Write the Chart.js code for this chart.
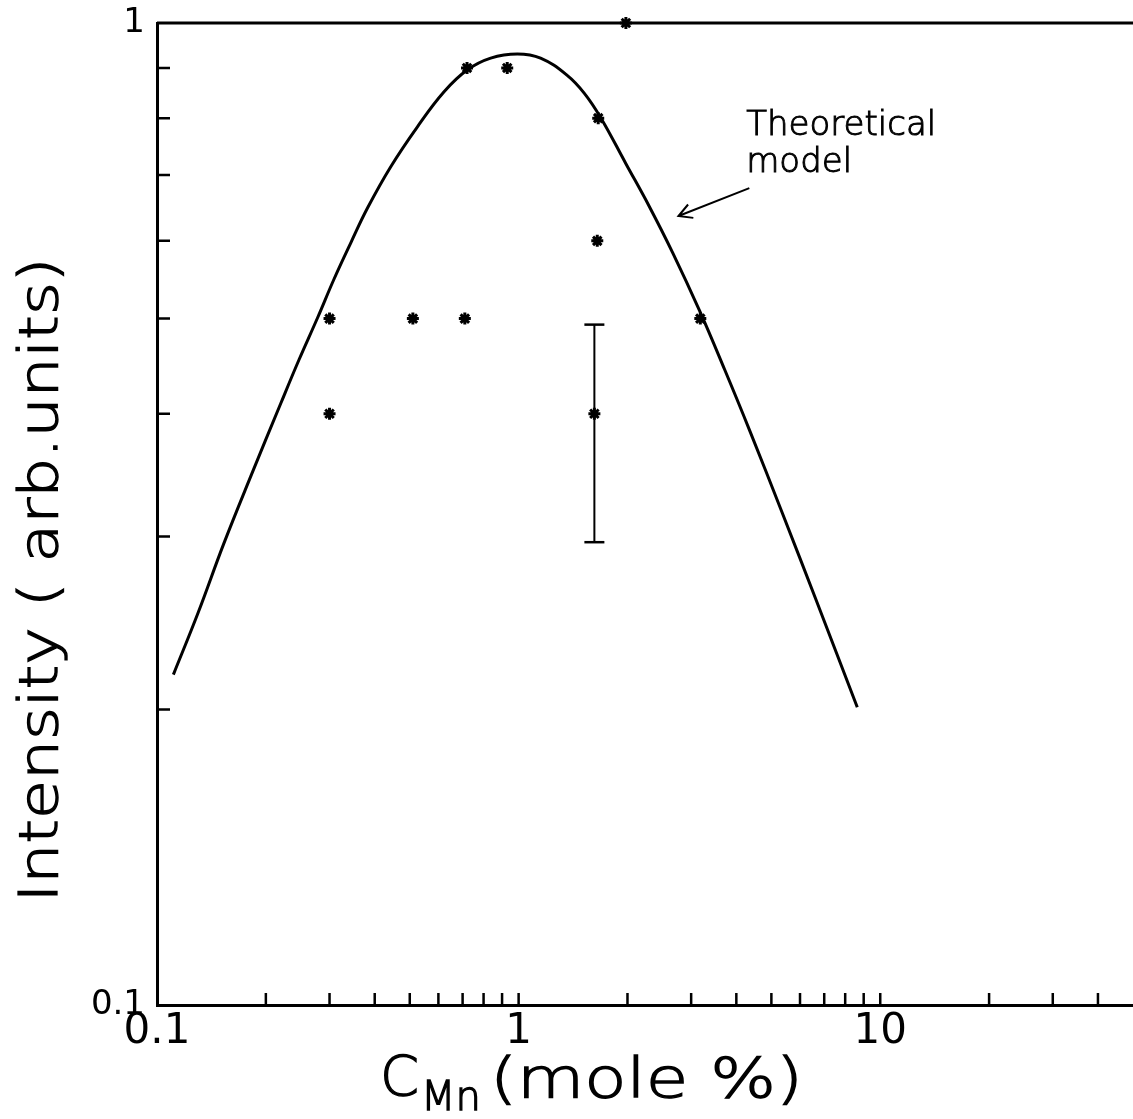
<!DOCTYPE html>
<html>
<head>
<meta charset="utf-8">
<script src="https://cdn.jsdelivr.net/npm/chart.js@4.4.1/dist/chart.umd.min.js"></script>
<style>
  html, body { margin: 0; padding: 0; background: #fff; overflow: hidden; }
  #wrap { width: 1133px; height: 1119px; position: relative; }
  #wrap canvas { display: block; }
</style>
</head>
<body>
<div id="wrap"><canvas id="chart"></canvas></div>
<script>
// Measured intensities (asterisks)
const measuredX = [0.30, 0.30, 0.51, 0.71, 0.72, 0.93, 1.62, 1.66, 1.65, 1.98, 3.18];
const measuredY = [0.50, 0.40, 0.50, 0.50, 0.90, 0.90, 0.40, 0.80, 0.60, 1.00, 0.50];

// Error bar on the point at 1.62 mole %
const errorBarX = 1.62;
const errorBarLow = 0.296;
const errorBarHigh = 0.493;

// Theoretical model curve
const modelX = [0.111, 0.130, 0.153, 0.182, 0.220, 0.247, 0.278, 0.309, 0.344, 0.382,
                0.443, 0.525, 0.622, 0.722, 0.837, 0.992, 1.15, 1.36, 1.52, 1.69,
                1.98, 2.30, 2.67, 3.16, 3.71, 4.35, 5.36, 6.66, 8.64];
const modelY = [0.217, 0.251, 0.295, 0.346, 0.410, 0.454, 0.501, 0.549, 0.598, 0.648,
                0.714, 0.784, 0.851, 0.896, 0.921, 0.930, 0.921, 0.885, 0.848, 0.800,
                0.719, 0.650, 0.583, 0.510, 0.444, 0.385, 0.317, 0.258, 0.201];

// Axis ticks
const xTickLabels = [0.1, 1, 10];
const yTickLabels = [0.1, 1];
const xMinorTicks = [0.2, 0.3, 0.4, 0.5, 0.6, 0.7, 0.8, 0.9, 1, 2, 3, 4, 5, 6, 7, 8, 9, 10, 20, 30, 40];
const yMinorTicks = [0.2, 0.3, 0.4, 0.5, 0.6, 0.7, 0.8, 0.9];

// Annotation ("Theoretical model" with arrow), in data coordinates
const noteLines = ["Theoretical", "model"];
const noteX = 4.26;
const noteY = [0.769, 0.705];
const arrowFrom = { x: 4.345, y: 0.679 };
const arrowTo = { x: 2.767, y: 0.636 };

const FONT = "'DejaVu Sans', 'Liberation Sans', sans-serif";

// thin plotter-like text: extra-light face with a light outline
function drawText(ctx, text, x, y) {
  ctx.fillText(text, x, y);
  ctx.strokeText(text, x, y);
}

// Draws the top frame line, the inward tick marks, titles and the annotation
const framePlugin = {
  id: "frame",
  afterDraw: function(chart) {
    const ctx = chart.ctx;
    const xs = chart.scales.x;
    const ys = chart.scales.y;
    const area = chart.chartArea;

    ctx.save();
    ctx.strokeStyle = "#000";
    ctx.fillStyle = "#000";
    ctx.lineCap = "butt";

    // top frame line
    ctx.lineWidth = 3;
    ctx.beginPath();
    ctx.moveTo(area.left, area.top);
    ctx.lineTo(area.right, area.top);
    ctx.stroke();

    // inward ticks
    ctx.lineWidth = 2.5;
    ctx.beginPath();
    for (let i = 0; i < xMinorTicks.length; i++) {
      const px = xs.getPixelForValue(xMinorTicks[i]);
      ctx.moveTo(px, area.bottom);
      ctx.lineTo(px, area.bottom - 12);
    }
    for (let i = 0; i < yMinorTicks.length; i++) {
      const py = ys.getPixelForValue(yMinorTicks[i]);
      ctx.moveTo(area.left, py);
      ctx.lineTo(area.left + 13, py);
    }
    ctx.stroke();

    // arrow
    const ax1 = xs.getPixelForValue(arrowFrom.x), ay1 = ys.getPixelForValue(arrowFrom.y);
    const ax2 = xs.getPixelForValue(arrowTo.x), ay2 = ys.getPixelForValue(arrowTo.y);
    const ang = Math.atan2(ay2 - ay1, ax2 - ax1);
    ctx.lineWidth = 2;
    ctx.beginPath();
    ctx.moveTo(ax1, ay1);
    ctx.lineTo(ax2, ay2);
    ctx.moveTo(ax2 - 15 * Math.cos(ang - 0.5), ay2 - 15 * Math.sin(ang - 0.5));
    ctx.lineTo(ax2, ay2);
    ctx.lineTo(ax2 - 15 * Math.cos(ang + 0.5), ay2 - 15 * Math.sin(ang + 0.5));
    ctx.stroke();

    // annotation text
    ctx.lineWidth = 1;
    ctx.font = "200 34px " + FONT;
    ctx.textAlign = "left";
    ctx.textBaseline = "alphabetic";
    for (let i = 0; i < noteLines.length; i++) {
      drawText(ctx, noteLines[i], xs.getPixelForValue(noteX), ys.getPixelForValue(noteY[i]));
    }

    // y axis title (rotated, stretched a little to match the wide plotter font)
    ctx.save();
    ctx.lineWidth = 1.3;
    ctx.translate(57, (area.top + area.bottom) / 2 + 66);
    ctx.rotate(-Math.PI / 2);
    ctx.font = "200 54px " + FONT;
    ctx.textAlign = "center";
    const yTitle = "Intensity ( arb.units)";
    const yw = ctx.measureText(yTitle).width;
    ctx.scale(645 / yw, 1);
    drawText(ctx, yTitle, 0, 0);
    ctx.restore();

    // x axis title: C with subscript Mn, then (mole %)
    ctx.lineWidth = 1.3;
    ctx.textAlign = "left";
    ctx.font = "200 56px " + FONT;
    drawText(ctx, "C", 380, 1095);
    const cw = ctx.measureText("C").width;
    ctx.font = "200 40px " + FONT;
    drawText(ctx, "Mn", 380 + cw + 2, 1110);
    ctx.save();
    ctx.font = "200 56px " + FONT;
    const rest = "(mole %)";
    const rw = ctx.measureText(rest).width;
    ctx.translate(490, 1097);
    ctx.scale(313 / rw, 1);
    drawText(ctx, rest, 0, 0);
    ctx.restore();

    ctx.restore();
  }
};

const ctx = document.getElementById("chart").getContext("2d");

new Chart(ctx, {
  type: "scatter",
  data: {
    datasets: [
      {
        label: "Theoretical model",
        type: "line",
        data: modelX.map(function(x, i) { return { x: x, y: modelY[i] }; }),
        borderColor: "#000",
        borderWidth: 3,
        pointRadius: 0,
        fill: false,
        tension: 0.4
      },
      {
        label: "Error bar",
        type: "line",
        data: [{ x: errorBarX, y: errorBarLow }, { x: errorBarX, y: errorBarHigh }],
        borderColor: "#000",
        borderWidth: 2,
        pointStyle: "line",
        pointRadius: 10,
        pointBorderWidth: 2.5,
        pointBorderColor: "#000",
        fill: false
      },
      {
        label: "Measured",
        data: measuredX.map(function(x, i) { return { x: x, y: measuredY[i] }; }),
        pointStyle: "star",
        pointRadius: 6,
        pointBorderWidth: 3,
        borderColor: "#000",
        backgroundColor: "#000",
        clip: false
      }
    ]
  },
  options: {
    responsive: true,
    maintainAspectRatio: false,
    animation: false,
    layout: { autoPadding: false, padding: { top: 23, right: 0, bottom: 0, left: 0 } },
    plugins: {
      legend: { display: false },
      tooltip: { enabled: false }
    },
    scales: {
      x: {
        type: "logarithmic",
        min: 0.1,
        max: 50,
        afterBuildTicks: function(scale) {
          scale.ticks = xTickLabels.map(function(v) { return { value: v }; });
        },
        afterFit: function(scale) {
          scale.height = 114;
          scale.paddingLeft = 0;
          scale.paddingRight = 0;
        },
        grid: { display: false, drawTicks: false },
        border: { display: true, color: "#000", width: 3 },
        ticks: {
          color: "#000",
          padding: 2,
          maxRotation: 0,
          font: { family: FONT, size: 42 },
          callback: function(value) { return String(value); }
        }
      },
      y: {
        type: "logarithmic",
        min: 0.1,
        max: 1,
        afterBuildTicks: function(scale) {
          scale.ticks = yTickLabels.map(function(v) { return { value: v }; });
        },
        afterFit: function(scale) {
          scale.width = 157;
          scale.paddingTop = 0;
          scale.paddingBottom = 0;
        },
        grid: { display: false, drawTicks: false },
        border: { display: true, color: "#000", width: 3 },
        ticks: {
          color: "#000",
          padding: 12,
          font: { family: FONT, size: 34 },
          callback: function(value) { return String(value); }
        }
      }
    }
  },
  plugins: [framePlugin]
});
</script>
</body>
</html>
